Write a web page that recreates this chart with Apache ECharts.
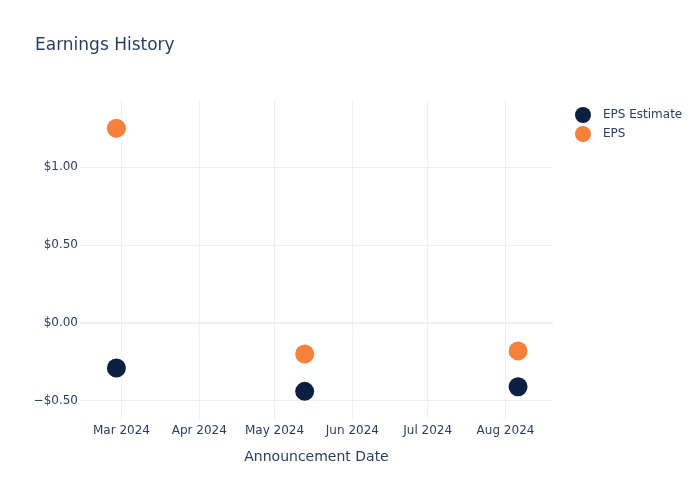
<!DOCTYPE html>
<html><head><meta charset="utf-8">
<script src="https://cdn.jsdelivr.net/npm/echarts@6/dist/echarts.min.js"></script>
<style>html,body{margin:0;padding:0;background:#fff}#c{width:700px;height:500px}</style>
</head><body><div id="c"></div>
<script>
const dates = ['2024-02-28', '2024-05-13', '2024-08-06'];
const epsEstimate = [-0.29, -0.44, -0.41];
const epsActual = [1.25, -0.20, -0.18];
const seriesNames = ['EPS Estimate', 'EPS'];
const yTickMin = -0.5, yTickMax = 1.0, yTickStep = 0.5;
const yRangeMin = -0.624, yRangeMax = 1.432;
const colors = ['#0b1f41', '#f7813a'];

const ts = d => new Date(d + 'T00:00:00').getTime();
const fmt = v => (v < 0 ? '\u2212$' : '$') + Math.abs(v).toFixed(2);
const txt = '#2a3f5f';
const gridC = '#ebf0f8';
const font = 'DejaVu Sans, Verdana, sans-serif';

// plot area in pixels
const pTop = 100, pBottom = 420, H = 500;
const pxPer = (pBottom - pTop) / (yRangeMax - yRangeMin);
const tickTop = pTop + (yRangeMax - yTickMax) * pxPer;
const tickBottom = pBottom - (yTickMin - yRangeMin) * pxPer;

const xMin = ts('2024-02-13') + 12 * 3600e3, xMax = ts('2024-08-19') + 22 * 3600e3;
const monthName = ['Jan','Feb','Mar','Apr','May','Jun','Jul','Aug','Sep','Oct','Nov','Dec'];

const chart = echarts.init(document.getElementById('c'), null, {renderer: 'canvas'});
chart.setOption({
  animation: false,
  title: {text: 'Earnings History', left: 30, top: 32, textStyle: {fontFamily: font, fontSize: 17, fontWeight: 'normal', color: txt}},
  legend: {
    orient: 'vertical', left: 570, top: 102, itemWidth: 16, itemHeight: 16, itemGap: 3, icon: 'circle',
    textStyle: {fontFamily: font, fontSize: 12, color: txt, padding: [0, 0, 0, 7]},
    data: seriesNames
  },
  grid: [
    {left: 80, right: 147, top: pTop, bottom: H - pBottom},
    {left: 80, right: 147, top: tickTop, bottom: H - tickBottom}
  ],
  xAxis: [{
    type: 'time', gridIndex: 0, min: xMin, max: xMax,
    splitNumber: 6, minInterval: 28 * 86400e3,
    name: 'Announcement Date', nameLocation: 'middle', nameGap: 30,
    nameTextStyle: {fontFamily: font, fontSize: 14, color: txt},
    axisLine: {show: false}, axisTick: {show: false},
    axisLabel: {color: txt, fontSize: 12, margin: 5, fontFamily: font,
      formatter: v => { const d = new Date(v); return monthName[d.getMonth()] + ' ' + d.getFullYear(); },
      showMinLabel: false, showMaxLabel: false},
    splitLine: {show: true, lineStyle: {color: gridC, width: 1}, showMinLine: false, showMaxLine: false}
  }, {
    type: 'time', gridIndex: 1, min: xMin, max: xMax, show: false
  }],
  yAxis: [{
    type: 'value', gridIndex: 0, min: yRangeMin, max: yRangeMax, show: false, splitLine: {show: false}
  }, {
    type: 'value', gridIndex: 1, min: yTickMin, max: yTickMax, interval: yTickStep,
    axisLine: {show: false}, axisTick: {show: false},
    axisLabel: {color: txt, fontSize: 12, margin: 2, fontFamily: font, formatter: fmt},
    splitLine: {show: true, lineStyle: {color: gridC, width: 1}}
  }],
  series: [
    {name: seriesNames[0], type: 'scatter', xAxisIndex: 0, yAxisIndex: 0, symbolSize: 19, itemStyle: {color: colors[0], opacity: 1},
     data: dates.map((d, i) => [ts(d), epsEstimate[i]]), z: 3,
     markLine: {silent: true, symbol: 'none', label: {show: false}, lineStyle: {color: gridC, width: 2, type: 'solid'}, data: [{yAxis: 0}], z: 1}},
    {name: seriesNames[1], type: 'scatter', xAxisIndex: 0, yAxisIndex: 0, symbolSize: 19, itemStyle: {color: colors[1], opacity: 1},
     data: dates.map((d, i) => [ts(d), epsActual[i]]), z: 3}
  ]
});
</script></body></html>
